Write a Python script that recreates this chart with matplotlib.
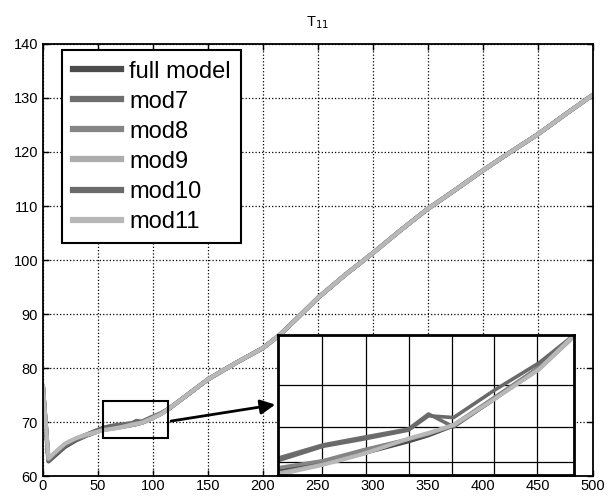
import matplotlib
matplotlib.use("Agg")
import matplotlib.pyplot as plt

plt.rcParams["font.family"] = ["Liberation Sans", "DejaVu Sans"]

# ---------------- data ----------------
x = [0, 5, 10, 20, 30, 40, 55, 64, 72, 81, 85, 90, 98, 107, 114,
     120, 135, 150, 175, 200, 215, 230, 250, 275, 300, 325, 350,
     375, 400, 425, 450, 475, 500]

tail = [73.3, 75.6, 77.9, 80.9, 83.7, 86.1, 89.0, 93.0, 97.3, 101.3,
        105.5, 109.5, 113.0, 116.6, 120.0, 123.3, 127.0, 130.6]

full_model = [76.5, 62.7, 63.6, 65.4, 66.6, 67.5,
              68.60, 68.85, 69.10, 69.43, 69.60, 69.87, 70.60, 71.50, 72.40] + tail
mod7 = [76.5, 63.0, 64.0, 65.8, 66.9, 67.7,
        68.97, 69.34, 69.55, 69.78, 70.20, 69.84, 70.60, 71.50, 72.40] + tail
mod8 = [76.5, 62.9, 63.9, 65.7, 66.8, 67.6,
        68.70, 68.90, 69.20, 69.50, 69.65, 69.90, 70.65, 71.50, 72.40] + tail
mod9 = [76.6, 63.1, 64.1, 65.9, 66.9, 67.6,
        68.55, 68.80, 69.10, 69.50, 69.65, 69.88, 70.60, 71.43, 72.35] + tail
mod10 = [76.5, 62.9, 63.8, 65.6, 66.8, 67.7,
         68.90, 69.30, 69.50, 69.75, 70.15, 70.10, 70.85, 71.62, 72.40] + tail
mod11 = [76.6, 63.2, 64.2, 66.0, 67.0, 67.7,
         68.50, 68.78, 69.08, 69.52, 69.68, 69.90, 70.60, 71.45, 72.40] + tail

names = ["full model", "mod7", "mod8", "mod9", "mod10", "mod11"]
series = [full_model, mod7, mod8, mod9, mod10, mod11]
colors = ["#4b4b4b", "#6e6e6e", "#858585", "#adadad", "#6a6a6a", "#b8b8b8"]

xticks = list(range(0, 501, 50))
yticks = list(range(60, 141, 10))

# zoom window shown in the inset
zoom_x = (55, 114)
zoom_y = (67, 73.9)

# ---------------- figure ----------------
fig = plt.figure(figsize=(6.13, 4.96), dpi=100)
ax = fig.add_axes([0.0701, 0.0403, 0.8973, 0.871])

for s, name, c in zip(series, names, colors):
    ax.plot(x, s, color=c, lw=3, label=name, solid_joinstyle="round")

ax.set_xlim(0, 500)
ax.set_ylim(60, 140)
ax.set_xticks(xticks)
ax.set_yticks(yticks)
ax.tick_params(direction="in", top=True, right=True, labelsize=10.5, length=4, width=1)
ax.tick_params(axis="x", pad=2)
ax.grid(True, color="black", linestyle=":", linewidth=0.9)
for sp in ax.spines.values():
    sp.set_linewidth(1.3)
ax.set_title("T$_{11}$", fontsize=10.5, pad=13)

leg = ax.legend(loc="upper left", fontsize=17, handlelength=2.05, handletextpad=0.35,
                labelspacing=0.34, borderpad=0.45, borderaxespad=0.0,
                fancybox=False, framealpha=1, edgecolor="black",
                bbox_to_anchor=(0.0345, 0.986))
leg.get_frame().set_linewidth(1.5)
for line in leg.get_lines():
    line.set_linewidth(4.5)

# zoom rectangle + arrow
ax.add_patch(plt.Rectangle((zoom_x[0], zoom_y[0]), zoom_x[1] - zoom_x[0],
                           zoom_y[1] - zoom_y[0], fill=False, ec="black", lw=1.5, zorder=5))
ax.annotate("", xy=(213.6, 73.3), xytext=(zoom_x[1], 70.1),
            arrowprops=dict(arrowstyle="-|>", color="black", lw=2, mutation_scale=22),
            zorder=6)

# ---------------- inset ----------------
axin = fig.add_axes([0.4535, 0.0423, 0.4829, 0.2823])
for s, c in zip(series, colors):
    axin.plot(x, s, color=c, lw=2.6, solid_joinstyle="round")
axin.set_xlim(55, 114)
axin.set_ylim(68.5, 72.4)
axin.set_xticks([63.7, 72.5, 81.1, 89.6, 98.1, 106.6])
axin.set_yticks([68.87, 69.85, 71.0])
axin.tick_params(length=0, labelbottom=False, labelleft=False)
axin.grid(True, color="black", linestyle="-", linewidth=0.9)
axin.set_axisbelow(True)
for sp in axin.spines.values():
    sp.set_linewidth(2)

fig.savefig("out.png", dpi=100)
